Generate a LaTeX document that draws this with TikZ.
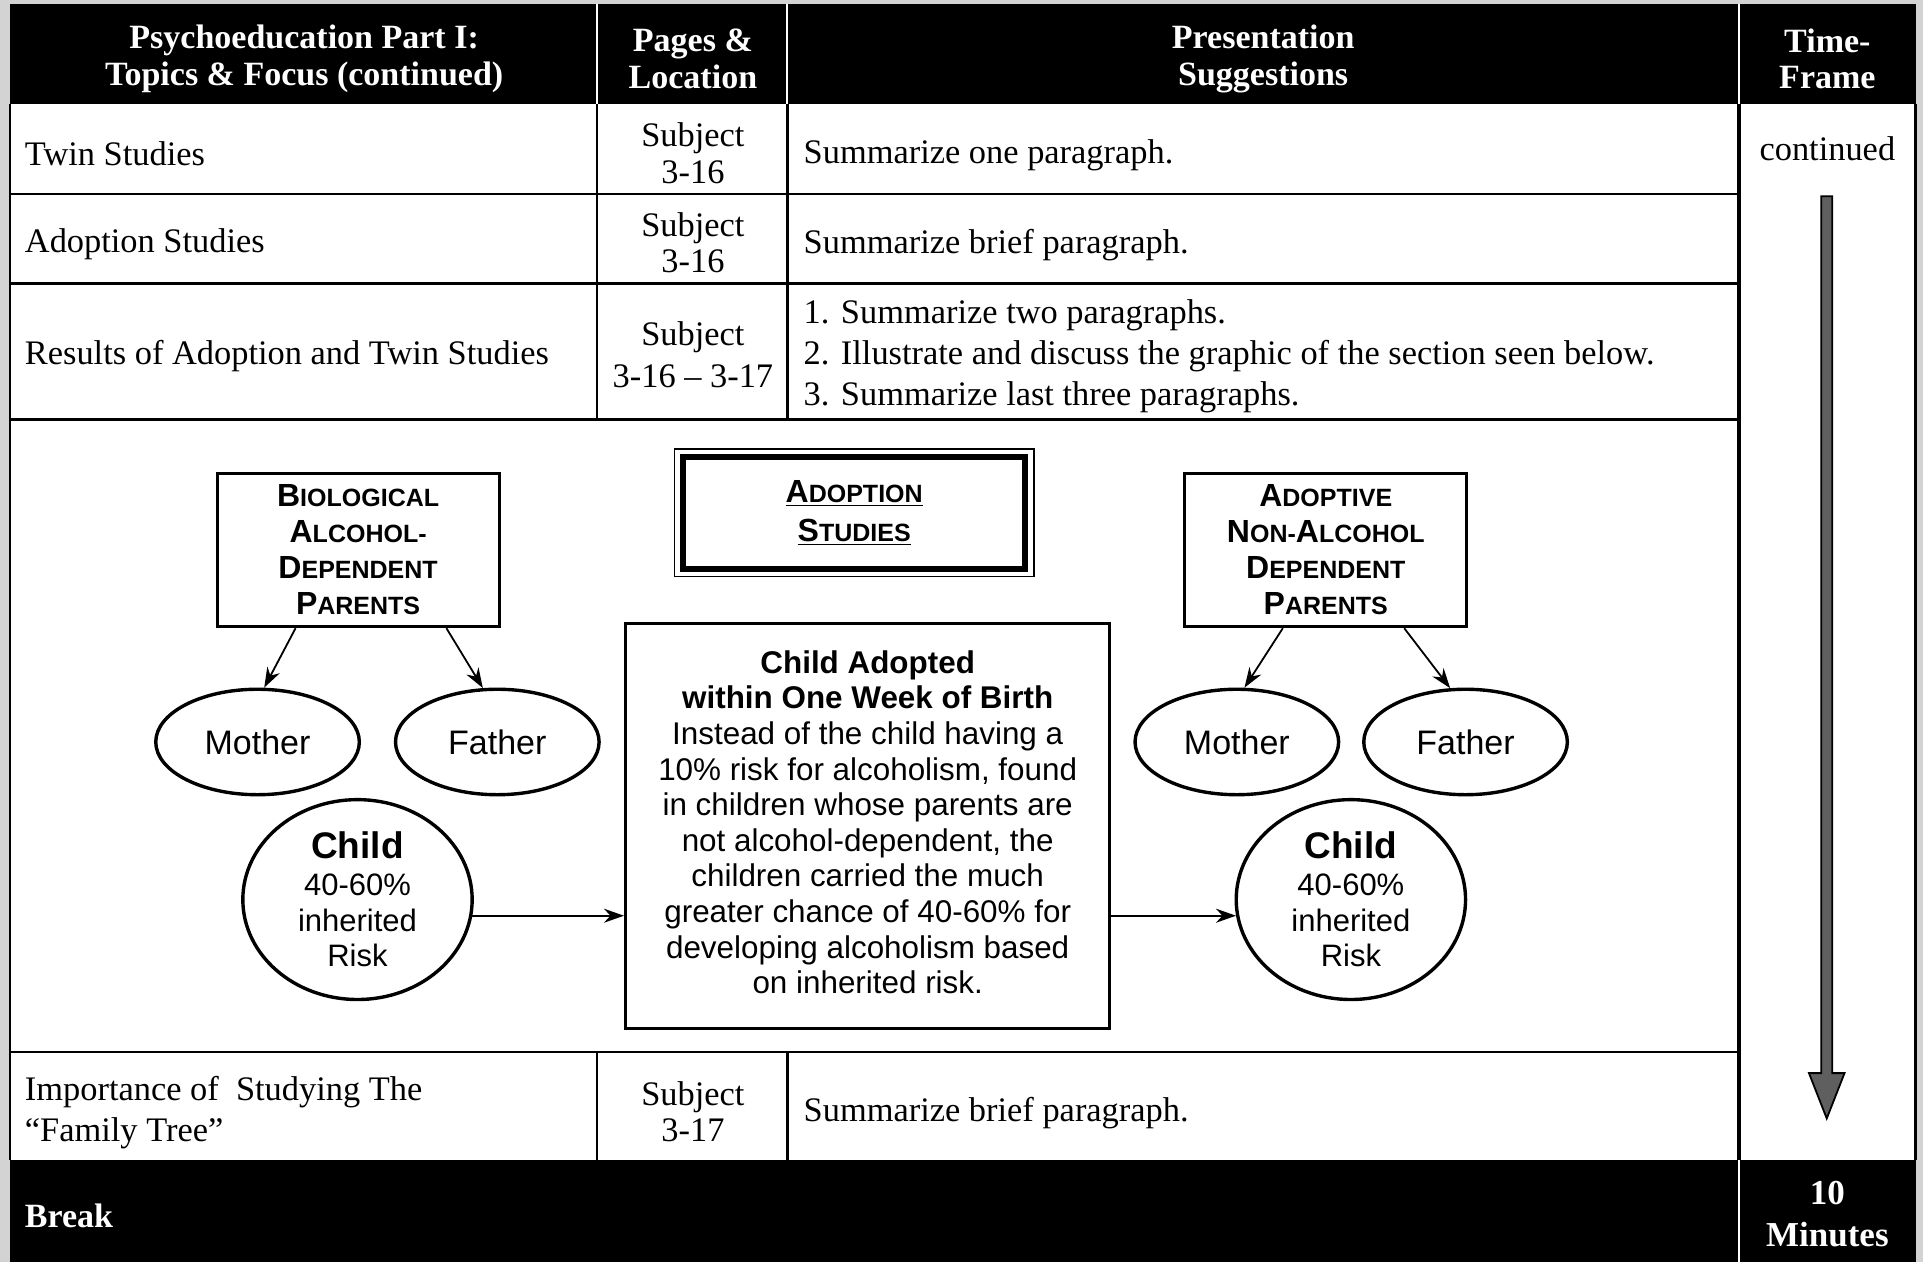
\documentclass[tikz,border=0pt]{standalone}
\usepackage{fontspec}
\setmainfont{Liberation Serif}
\setsansfont{Liberation Sans}
\usetikzlibrary{shapes.geometric,arrows.meta,calc}
\def\pxu{0.6132pt}
\newcommand\fsc[2]{{\fontsize{16}{18}\selectfont #1}{\fontsize{12.5}{18}\selectfont #2}}
\definecolor{bgray}{HTML}{D3D3D3}
\definecolor{agray}{HTML}{5F5F5F}
\tikzset{
  hdr/.style={text=white,font=\bfseries\fontsize{17}{18.4}\selectfont,align=center,inner sep=0pt},
  cell/.style={font=\fontsize{17.2}{20.5}\selectfont,inner sep=0pt},
  subj/.style={font=\fontsize{17.2}{18.4}\selectfont,inner sep=0pt,align=center},
  grid/.style={line width=1.2pt,black},
  sepw/.style={line width=1pt,white},
  scbox/.style={draw,line width=1.5pt,minimum width=230*\pxu,minimum height=125*\pxu,align=center,font=\sffamily\bfseries\fontsize{16}{18}\selectfont,inner sep=0pt},
  oval/.style={ellipse,draw,line width=1.7pt,minimum width=166*\pxu,minimum height=86*\pxu,inner sep=0pt,font=\sffamily\fontsize{17}{18}\selectfont},
  childov/.style={ellipse,draw,line width=1.7pt,minimum width=187*\pxu,minimum height=163*\pxu,inner sep=0pt,align=center,font=\sffamily\fontsize{15.5}{17.8}\selectfont},
  arr/.style={line width=0.9pt,-{Stealth[length=10pt,width=7pt]}},
}
\begin{document}
\begin{tikzpicture}[x=0.6132pt,y=-0.6132pt]
\useasboundingbox (0,0) rectangle (1568,1029);
\fill[bgray] (0,0) rectangle (1568,1029);
% table background
\fill[white] (8,85) rectangle (1562,946);
\fill[black] (8,3.5) rectangle (1562,85);
\fill[black] (8,946) rectangle (1562,1029);
% header separators
\draw[sepw] (487,3.5) -- (487,85);
\draw[sepw] (642,3.5) -- (642,85);
\draw[sepw] (1418,3.5) -- (1418,85);
\draw[sepw] (1418,946) -- (1418,1029);
% grid
\draw[grid] (8,158) -- (1418,158);
\draw[grid] (8,231) -- (1418,231);
\draw[grid] (8,342) -- (1418,342);
\draw[grid] (8,858) -- (1418,858);
\draw[grid] (487,85) -- (487,342);
\draw[grid] (642,85) -- (642,342);
\draw[grid] (487,858) -- (487,946);
\draw[grid] (642,858) -- (642,946);
\draw[line width=1.6pt] (1418,85) -- (1418,946);
\draw[grid] (8,85) -- (8,946);
\draw[grid] (1562,85) -- (1562,946);

% header text
\node[hdr] (h1) at (248,48) {Psychoeducation Part I:\\Topics \& Focus (continued)};
\node[hdr] (h2) at (565,48) {Pages \&\\Location};
\node[hdr] (h3) at (1030,48) {Presentation\\Suggestions};
\node[hdr] (h4) at (1490,48) {Time-\\Frame};

% rows
\node[cell,anchor=west] (r1a) at (20,125.5) {Twin Studies};
\node[subj] (r1b) at (565,125) {Subject\\3-16};
\node[cell,anchor=west] (r1c) at (655,127) {Summarize one paragraph.};

\node[cell,anchor=west] (r2a) at (20,199) {Adoption Studies};
\node[subj] (r2b) at (565,198) {Subject\\3-16};
\node[cell,anchor=west] (r2c) at (655,199.5) {Summarize brief paragraph.};

\node[cell,anchor=west] (r3a) at (20,290.5) {Results of Adoption and Twin Studies};
\node[subj,font=\fontsize{17.2}{20.8}\selectfont] (r3b) at (565,289) {Subject\\3-16 – 3-17};
\node[cell,anchor=west,align=left] (r3c) at (655,290.5) {1. Summarize two paragraphs.\\2. Illustrate and discuss the graphic of the section seen below.\\3. Summarize last three paragraphs.};

\node[cell,anchor=west,align=left] (r5a) at (20,907.5) {Importance of\ \ Studying The\\“Family Tree”};
\node[subj] (r5b) at (565,906.5) {Subject\\3-17};
\node[cell,anchor=west] (r5c) at (655,908) {Summarize brief paragraph.};

\node[hdr,anchor=west] (brk) at (20,991) {Break};
\node[hdr,font=\bfseries\fontsize{17.5}{21}\selectfont] (min) at (1490,990) {10\\Minutes};

\node[cell] (cont) at (1490,121) {continued};

% time arrow
\filldraw[fill=agray,draw=black,line width=0.9pt]
  (1485,160) -- (1494,160) -- (1494,875) -- (1504,875) -- (1489.5,912)
  -- (1475,875) -- (1485,875) -- cycle;

% diagram
\node[scbox] (bio) at (292,448.5) {\fsc{B}{IOLOGICAL}\\\fsc{A}{LCOHOL-}\\\fsc{D}{EPENDENT}\\\fsc{P}{ARENTS}};
\node[scbox] (adp) at (1081,448.5) {\fsc{A}{DOPTIVE}\\\fsc{N}{ON-}\fsc{A}{LCOHOL}\\\fsc{D}{EPENDENT}\\\fsc{P}{ARENTS}};

\node[draw,line width=0.8pt,minimum width=293*\pxu,minimum height=104*\pxu,inner sep=0pt] (ttlout) at (696.5,418) {};
\node[draw,line width=3pt,minimum width=279*\pxu,minimum height=91*\pxu,inner sep=0pt,align=center,font=\sffamily\bfseries\fontsize{16}{19.5}\selectfont] (ttl) at (696.5,418.5)
  {\underline{\fsc{A}{DOPTION}}\\\underline{\fsc{S}{TUDIES}}};

\node[oval] (lm) at (210,605) {Mother};
\node[oval] (lf) at (405.5,605) {Father};
\node[oval] (rm) at (1008.5,605) {Mother};
\node[oval] (rf) at (1195,605) {Father};

\node[childov] (lc) at (291.5,733.5) {{\bfseries\fontsize{18.5}{20}\selectfont Child}\\[0.5pt]40-60\%\\inherited\\Risk};
\node[childov] (rc) at (1101.5,733.5) {{\bfseries\fontsize{18.5}{20}\selectfont Child}\\[0.5pt]40-60\%\\inherited\\Risk};

\node[draw,line width=1.5pt,minimum width=395*\pxu,minimum height=331*\pxu,inner sep=0pt] (cb) at (707.5,673.5) {};
\node[inner sep=0pt,align=center,font=\sffamily\fontsize{15.7}{17.8}\selectfont] (cbt) at (707.5,670.5)
  {{\bfseries Child Adopted}\\{\bfseries within One Week of Birth}\\Instead of the child having a\\10\% risk for alcoholism, found\\in children whose parents are\\not alcohol-dependent, the\\children carried the much\\greater chance of 40-60\% for\\developing alcoholism based\\on inherited risk.};

\draw[arr] ([xshift=-51*\pxu]bio.south) -- (lm.83);
\draw[arr] ([xshift=72*\pxu]bio.south) -- (lf.105);
\draw[arr] ([xshift=-35*\pxu]adp.south) -- (rm.82);
\draw[arr] ([xshift=64*\pxu]adp.south) -- (rf.106);
\draw[arr] (lc.-8) -- (lc.-8 -| cb.west);
\draw[arr] (rc.188 -| cb.east) -- (rc.188);
\end{tikzpicture}
\end{document}
